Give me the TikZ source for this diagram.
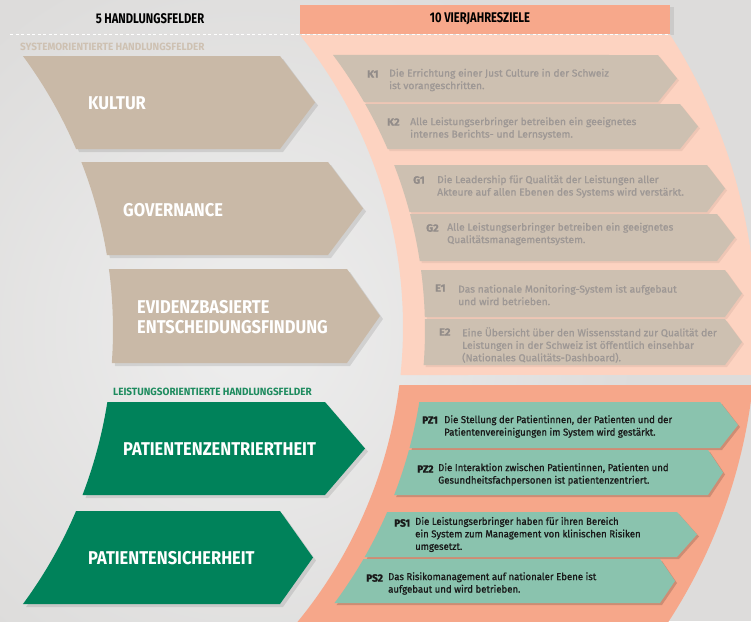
\documentclass[tikz,border=0pt]{standalone}
\usepackage{fontspec}
\setmainfont{Fira Sans}[FakeStretch=1.03, FakeBold=1.2]
\newfontfamily\leistfont{Fira Sans}[FakeStretch=0.96, FakeBold=1.2]
\newfontfamily\titlefont{Fira Sans}[FakeStretch=0.89]
\newfontfamily\headfont{Fira Sans}[FakeStretch=0.8]
\newfontfamily\secfont{Fira Sans}[FakeStretch=0.95]
\definecolor{bg}{HTML}{DDDCDB}
\definecolor{bglight}{HTML}{EEEEEE}
\definecolor{headsalmon}{HTML}{F7A88B}
\definecolor{peach}{HTML}{FDD3C1}
\definecolor{salmonband}{HTML}{F6A78A}
\definecolor{beigearrow}{HTML}{C9B9A7}
\definecolor{goalbeige}{HTML}{CDC0B1}
\definecolor{goaltextgray}{HTML}{9E9895}
\definecolor{goallabelgray}{HTML}{928C89}
\definecolor{greenarrow}{HTML}{00825A}
\definecolor{greenbox}{HTML}{8AC3AE}
\definecolor{seclabelbeige}{HTML}{CEC1B2}
\definecolor{seclabelgreen}{HTML}{1D8B5E}
\tikzset{
  % chevron whose left edge lies on a circle: top, bottom, shoulder x, tip x, cx, cy, R
  chev/.style n args={7}{insert path={
    ({#5+#7*cos(asin((#2-#6)/#7))},#2)
    arc[start angle={asin((#2-#6)/#7)}, end angle={asin((#1-#6)/#7)}, radius=#7]
    -- (#3,#1) -- (#4,{(#1+#2)/2}) -- (#3,#2) -- cycle}},
  leftchev/.style n args={4}{chev={#1}{#2}{#3}{#4}{-349}{330}{462}},
  goalchev/.style n args={4}{chev={#1}{#2}{#3}{#4}{-32}{330}{457}},
  shadowfill/.style={fill=black, opacity=0.10},
  fieldtitle/.style={text=white, font=\titlefont\bfseries\fontsize{18.5}{19.5}\selectfont, anchor=west, inner sep=0pt, align=left},
  headtext/.style={text=black, font=\headfont\bfseries\fontsize{14}{16}\selectfont, inner sep=0pt},
  seclabel/.style={font=\secfont\bfseries\fontsize{10.5}{12}\selectfont, anchor=west, inner sep=0pt},
  goallabel/.style={font=\bfseries\fontsize{10.5}{12.5}\selectfont, anchor=west, inner sep=0pt},
  goaltext/.style={font=\fontsize{10}{12.5}\selectfont, anchor=west, inner sep=0pt, align=left},
  syslabel/.style={goallabel, text=goallabelgray},
  systext/.style={goaltext, text=goaltextgray},
  leistlabel/.style={goallabel, font=\leistfont\bfseries\fontsize{10.5}{12.5}\selectfont, text=black!90},
  leisttext/.style={goaltext, font=\leistfont\fontsize{10}{12.5}\selectfont, text=black!90}
}
\begin{document}
\begin{tikzpicture}[x=1pt,y=-1pt]
\useasboundingbox (0,0) rectangle (751,621);
\begin{scope}
\clip (0,0) rectangle (751,621);
% background
\fill[bg] (0,0) rectangle (751,621);
\shade[inner color=bglight, outer color=bg] (250,330) circle (390);
% header
\fill[black, opacity=0.08] (670,7) rectangle (674,35);
\fill[headsalmon] (300,5) rectangle (670,34);
% peach band (system goals)
\fill[peach]
  ({-62+465*cos(asin((35-327)/465))},35) -- ({216+540*cos(asin((35-327)/540))},35)
  arc[start angle={asin((35-327)/540)}, end angle={asin((375-327)/540)}, radius=540]
  -- ({-62+465*cos(asin((375-327)/465))},375)
  arc[start angle={asin((375-327)/465)}, end angle={asin((35-327)/465)}, radius=465]
  -- cycle;
% salmon band (performance goals)
\fill[salmonband]
  ({-62+465*cos(asin((385-327)/465))},385) -- ({216+540*cos(asin((385-327)/540))},385)
  arc[start angle={asin((385-327)/540)}, end angle={asin((640-327)/540)}, radius=540]
  -- ({-62+465*cos(asin((640-327)/465))},640)
  arc[start angle={asin((640-327)/465)}, end angle={asin((385-327)/465)}, radius=465]
  -- cycle;
\draw[white, line width=1pt, dash pattern=on 3pt off 2.5pt] (10,34) -- (670,34);

% left arrows: shadows
\begin{scope}[shift={(3,3)}]
\path[shadowfill, leftchev={56}{149}{280}{315}];
\path[shadowfill, leftchev={162}{255}{328}{363}];
\path[shadowfill, leftchev={269}{363}{347}{380}];
\path[shadowfill, leftchev={402}{495}{325}{365}];
\path[shadowfill, leftchev={511}{604}{280}{313}];
\end{scope}
% left arrows
\path[fill=beigearrow, leftchev={56}{149}{280}{315}];
\path[fill=beigearrow, leftchev={162}{255}{328}{363}];
\path[fill=beigearrow, leftchev={269}{363}{347}{380}];
\path[fill=greenarrow, leftchev={402}{495}{325}{365}];
\path[fill=greenarrow, leftchev={511}{604}{280}{313}];

% goal boxes: shadows
\begin{scope}[shift={(2,2)}]
\path[shadowfill, opacity=0.06, goalchev={55}{102}{658}{677}];
\path[shadowfill, opacity=0.06, goalchev={104}{149}{680}{698}];
\path[shadowfill, opacity=0.06, goalchev={165}{212}{707}{725}];
\path[shadowfill, opacity=0.06, goalchev={214}{261}{717}{735}];
\path[shadowfill, opacity=0.06, goalchev={270}{317}{725}{742}];
\path[shadowfill, opacity=0.06, goalchev={319}{365}{725}{742}];
\path[shadowfill, opacity=0.16, goalchev={402}{448}{720}{738}];
\path[shadowfill, opacity=0.16, goalchev={450}{495}{708}{723}];
\path[shadowfill, opacity=0.16, goalchev={512}{557}{677}{697}];
\path[shadowfill, opacity=0.16, goalchev={559}{603}{660}{675}];
\end{scope}
% goal boxes
\path[fill=goalbeige, goalchev={55}{102}{658}{677}];
\path[fill=goalbeige, goalchev={104}{149}{680}{698}];
\path[fill=goalbeige, goalchev={165}{212}{707}{725}];
\path[fill=goalbeige, goalchev={214}{261}{717}{735}];
\path[fill=goalbeige, goalchev={270}{317}{725}{742}];
\path[fill=goalbeige, goalchev={319}{365}{725}{742}];
\path[fill=greenbox, goalchev={402}{448}{720}{738}];
\path[fill=greenbox, goalchev={450}{495}{708}{723}];
\path[fill=greenbox, goalchev={512}{557}{677}{697}];
\path[fill=greenbox, goalchev={559}{603}{660}{675}];
\end{scope}

% header texts
\node[headtext] (hl) at (150,19) {5 HANDLUNGSFELDER};
\node[headtext] (hr) at (480,19) {10 VIERJAHRESZIELE};
\node[seclabel, text=seclabelbeige] (sys) at (20,47) {SYSTEMORIENTIERTE HANDLUNGSFELDER};
\node[seclabel, text=seclabelgreen] (leist) at (113,392) {LEISTUNGSORIENTIERTE HANDLUNGSFELDER};

% field titles
\node[fieldtitle] (kultur) at (88,103) {KULTUR};
\node[fieldtitle] (gov) at (123,210) {GOVERNANCE};
\node[fieldtitle] (evid) at (137,317) {EVIDENZBASIERTE\\ENTSCHEIDUNGSFINDUNG};
\node[fieldtitle] (pz) at (123,449) {PATIENTENZENTRIERTHEIT};
\node[fieldtitle] (ps) at (88,558) {PATIENTENSICHERHEIT};

% goals
\node[syslabel] (k1l) at (367,74) {K1};
\node[systext] (k1) at (389,80) {Die Errichtung einer Just Culture in der Schweiz\\ist vorangeschritten.};
\node[syslabel] (k2l) at (387,122) {K2};
\node[systext] (k2) at (410,128.5) {Alle Leistungserbringer betreiben ein geeignetes\\internes Berichts- und Lernsystem.};
\node[syslabel] (g1l) at (413,180) {G1};
\node[systext] (g1) at (437,186.5) {Die Leadership für Qualität der Leistungen aller\\Akteure auf allen Ebenen des Systems wird verstärkt.};
\node[syslabel] (g2l) at (426,228) {G2};
\node[systext] (g2) at (447,234) {Alle Leistungserbringer betreiben ein geeignetes\\Qualitätsmanagementsystem.};
\node[syslabel] (e1l) at (435,288) {E1};
\node[systext] (e1) at (458,295) {Das nationale Monitoring-System ist aufgebaut\\und wird betrieben.};
\node[syslabel] (e2l) at (439,332) {E2};
\node[systext] (e2) at (462,345) {Eine Übersicht über den Wissensstand zur Qualität der\\Leistungen in der Schweiz ist öffentlich einsehbar\\(Nationales Qualitäts-Dashboard).};
\node[leistlabel] (pz1l) at (422,420) {PZ1};
\node[leisttext] (pz1) at (444,426.5) {Die Stellung der Patientinnen, der Patienten und der\\Patientenvereinigungen im System wird gestärkt.};
\node[leistlabel] (pz2l) at (417,469) {PZ2};
\node[leisttext] (pz2) at (438,474.5) {Die Interaktion zwischen Patientinnen, Patienten und\\Gesundheitsfachpersonen ist patientenzentriert.};
\node[leistlabel] (ps1l) at (394,523) {PS1};
\node[leisttext] (ps1) at (415,534.5) {Die Leistungserbringer haben für ihren Bereich\\ein System zum Management von klinischen Risiken\\umgesetzt.};
\node[leistlabel] (ps2l) at (366,578) {PS2};
\node[leisttext] (ps2) at (388,583.5) {Das Risikomanagement auf nationaler Ebene ist\\aufgebaut und wird betrieben.};
\end{tikzpicture}
\end{document}
